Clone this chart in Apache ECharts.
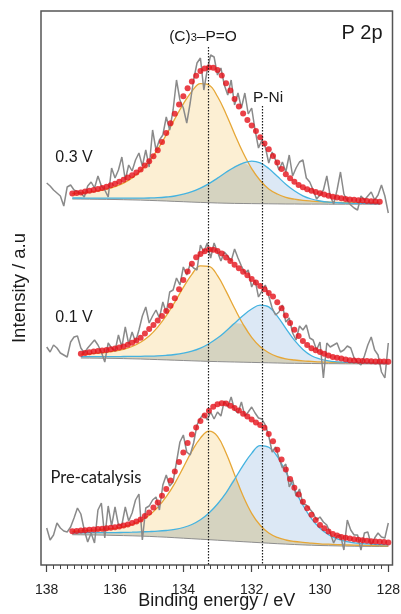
<!DOCTYPE html>
<html>
<head>
<meta charset="utf-8">
<title>P 2p</title>
<script src="https://cdn.jsdelivr.net/npm/echarts@6/dist/echarts.min.js"></script>
<style>
  html, body { margin: 0; padding: 0; background: #fff; }
  #chart { width: 401px; height: 614px; }
</style>
</head>
<body>
<div id="chart"></div>
<script>
// ---------- data (intensity in a.u., spectra already stacked) ----------
// raw spectra, 138.0 -> 128.0 eV every 0.1 eV
const raw03 = [382, 379, 375, 372, 369, 359, 378, 380, 375, 373,
  372, 368, 379, 383, 377, 389, 379, 375, 368, 397,
  387, 395, 408, 385, 400, 394, 405, 412, 399, 415,
  398, 435, 415, 425, 430, 448, 435, 455, 485, 465,
  457, 442, 462, 485, 502, 507, 475, 495, 510, 508,
  490, 497, 480, 470, 485, 460, 472, 457, 472, 451,
  457, 435, 417, 425, 418, 402, 413, 405, 395, 403,
  393, 410, 389, 397, 403, 405, 387, 383, 375, 366,
  370, 375, 389, 369, 361, 375, 393, 371, 364, 360,
  357, 355, 369, 365, 369, 373, 365, 370, 380, 369, 352];
const raw01 = [218, 213, 220, 217, 212, 210, 208, 223, 228, 229,
  217, 212, 217, 221, 225, 220, 213, 203, 222, 217,
  214, 230, 218, 238, 221, 233, 223, 235, 249, 258,
  242, 249, 255, 247, 263, 252, 273, 275, 287, 280,
  298, 290, 301, 297, 295, 320, 313, 322, 307, 322,
  313, 304, 313, 309, 304, 316, 307, 299, 292, 295,
  278, 285, 268, 274, 280, 269, 257, 250, 253, 260,
  243, 247, 232, 225, 239, 235, 240, 227, 225, 215,
  223, 187, 222, 218, 220, 222, 213, 215, 219, 217,
  207, 203, 200, 209, 220, 228, 215, 210, 193, 187, 222];
const rawPre = [37, 25, 30, 42, 37, 34, 33, 38, 47, 57,
  51, 35, 23, 32, 22, 55, 62, 27, 59, 39,
  58, 40, 40, 58, 44, 52, 65, 71, 25, 57,
  59, 65, 68, 55, 80, 90, 79, 83, 103, 123,
  130, 113, 110, 122, 140, 147, 151, 145, 153, 146,
  153, 149, 164, 158, 168, 155, 152, 163, 149, 153,
  158, 152, 147, 146, 140, 129, 113, 118, 107, 97,
  101, 78, 85, 69, 76, 61, 60, 56, 52, 45,
  48, 43, 40, 32, 22, 29, 30, 15, 45, 35,
  30, 30, 15, 32, 33, 20, 27, 32, 28, 27, 42];

// fitted envelopes (red dots), every 0.125 eV
const env03 = [371.5, 372.0, 372.6, 373.4, 374.3, 375.1, 376.0, 377.1, 378.3, 379.7,
  381.3, 383.2, 385.2, 387.4, 389.8, 392.5, 395.6, 399.5, 403.8, 408.8,
  414.8, 423.0, 432.0, 441.7, 451.2, 460.4, 468.8, 476.7, 483.5, 489.2,
  494.0, 496.5, 497.6, 497.2, 495.0, 489.5, 481.8, 474.4, 466.0, 458.5,
  451.5, 445.0, 439.5, 434.0, 427.7, 421.5, 415.7, 409.0, 402.4, 396.0,
  390.8, 386.7, 383.2, 380.0, 377.7, 375.8, 374.3, 373.0, 371.7, 370.4,
  369.3, 368.3, 367.4, 366.7, 366.1, 365.6, 365.2, 364.8, 364.4, 364.1,
  363.8, 363.5, 363.3];
const env01 = [211.2, 212.0, 212.7, 213.4, 214.0, 214.5, 215.0, 215.7, 216.5, 217.4,
  218.5, 220.2, 222.3, 224.6, 227.3, 231.6, 235.9, 240.1, 244.4, 249.0,
  254.0, 259.2, 266.7, 275.7, 285.0, 293.5, 301.3, 307.7, 311.0, 313.8,
  315.5, 315.2, 314.0, 311.5, 307.5, 303.9, 300.3, 296.7, 293.2, 289.7,
  286.1, 282.5, 279.1, 275.7, 272.1, 268.6, 262.8, 256.8, 249.5, 242.1,
  235.2, 229.0, 224.0, 219.9, 216.7, 214.7, 213.0, 211.3, 209.6, 208.1,
  207.2, 206.4, 205.5, 204.7, 204.4, 204.2, 204.1, 203.9, 203.8, 203.6,
  203.5, 203.4, 203.3];
const envPre = [33.7, 34.0, 34.4, 34.8, 35.2, 35.6, 36.0, 36.3, 36.7, 37.2,
  37.8, 38.5, 39.4, 40.4, 41.9, 43.6, 45.5, 49.0, 52.6, 57.4,
  62.6, 69.2, 76.0, 84.6, 93.4, 103.0, 112.5, 122.0, 130.5, 137.6,
  143.9, 149.5, 154.3, 158.2, 160.8, 161.7, 161.4, 159.2, 156.9, 154.4,
  151.3, 148.4, 145.5, 142.6, 140.1, 137.2, 130.9, 123.8, 115.3, 105.6,
  95.6, 86.0, 77.3, 70.5, 63.2, 56.7, 50.3, 44.9, 40.1, 36.7,
  33.4, 30.9, 29.5, 28.1, 27.2, 26.5, 25.8, 25.2, 24.7, 24.2,
  23.8, 23.5, 23.2, 22.9, 22.6];

// background + components (height above background), every 0.25 eV
const bg03 = [366.0, 365.9, 365.8, 365.7, 365.6, 365.5, 365.3, 365.1, 364.9, 364.6,
  364.3, 364.0, 363.6, 363.3, 362.9, 362.6, 362.3, 362.0, 361.8, 361.6,
  361.5, 361.4, 361.3, 361.2, 361.1, 361.0, 361.0, 360.9, 360.9, 360.9,
  360.8, 360.8, 360.8, 360.8, 360.8, 360.8, 360.8];
const po03 = [5.4, 6.1, 7.1, 8.4, 10.2, 12.9, 16.6, 22.0, 29.4, 39.2,
  51.4, 66.1, 82.5, 97.8, 110.8, 118.8, 117.7, 106.5, 89.3, 69.5,
  50.7, 35.0, 23.2, 14.9, 9.9, 6.7, 4.8, 3.7, 3.0, 2.5,
  2.2, 1.9, 1.7, 1.5, 1.4, 1.3, 1.1];
const pni03 = [1.0, 1.1, 1.1, 1.2, 1.3, 1.4, 1.5, 1.7, 2.0, 2.4,
  3.0, 4.0, 5.4, 7.5, 10.4, 14.3, 19.1, 24.9, 30.9, 36.3,
  40.4, 42.5, 40.8, 35.3, 27.6, 19.8, 13.2, 8.3, 5.1, 3.1,
  2.0, 1.5, 1.1, 0.9, 0.8, 0.7, 0.6];

const bg01 = [207.0, 206.9, 206.8, 206.7, 206.6, 206.4, 206.2, 206.0, 205.7, 205.4,
  205.1, 204.8, 204.5, 204.2, 203.9, 203.6, 203.4, 203.2, 203.0, 202.8,
  202.6, 202.4, 202.2, 202.0, 201.8, 201.7, 201.6, 201.5, 201.4, 201.3,
  201.3, 201.2, 201.2, 201.1, 201.1, 201.0, 201.0];
const po01 = [3.8, 4.3, 5.0, 6.0, 7.3, 9.3, 12.3, 16.8, 23.3, 32.5,
  44.2, 58.1, 73.1, 86.5, 95.3, 95.1, 86.0, 70.7, 53.7, 37.8,
  25.1, 15.9, 10.0, 6.4, 4.4, 3.3, 2.5, 2.1, 1.7, 1.5,
  1.4, 1.2, 1.1, 1.0, 0.9, 0.8, 0.8];
const pni01 = [1.3, 1.4, 1.5, 1.7, 1.8, 2.1, 2.4, 2.7, 3.2, 3.8,
  4.6, 5.7, 7.3, 9.6, 13.0, 17.7, 23.5, 30.8, 38.7, 46.7,
  53.4, 57.4, 55.9, 46.9, 34.8, 23.1, 14.0, 7.8, 4.6, 2.8,
  1.9, 1.4, 1.2, 1.0, 0.8, 0.7, 0.6];

const bgPre = [30.3, 30.2, 30.1, 30.0, 29.8, 29.6, 29.4, 29.2, 28.9, 28.6,
  28.2, 27.8, 27.3, 26.8, 26.3, 25.8, 25.3, 24.8, 24.3, 23.8,
  23.3, 22.8, 22.3, 21.8, 21.3, 20.9, 20.5, 20.1, 19.8, 19.5,
  19.3, 19.1, 18.9, 18.8, 18.7, 18.6, 18.5, 18.5];
const poPre = [3.4, 3.9, 4.5, 5.1, 6.0, 7.1, 8.8, 11.3, 15.2, 21.1,
  29.4, 40.5, 54.4, 70.8, 87.5, 101.1, 108.6, 103.9, 87.7, 66.5,
  45.7, 28.9, 17.4, 10.2, 6.3, 4.1, 3.0, 2.5, 2.1, 1.7,
  1.5, 1.3, 1.2, 1.0, 1.0, 0.9, 0.8, 0.7];
const pniPre = [1.8, 2.0, 2.2, 2.4, 2.6, 2.8, 3.2, 3.6, 4.2, 4.8,
  5.6, 6.7, 8.3, 10.7, 14.2, 19.4, 26.7, 36.2, 47.9, 61.9,
  76.3, 88.9, 97.1, 96.0, 87.3, 72.2, 55.7, 39.6, 26.6, 17.2,
  11.0, 7.0, 4.8, 3.4, 2.7, 2.3, 1.9, 1.7];

// reference lines: (C)3-P=O and P-Ni positions
const peakE = [133.27, 131.68];
const peakTop = [518, 459];

const majorTicks = [128, 130, 132, 134, 136, 138];

// energy grid, high -> low binding energy
function energies(start, step, n) {
  const out = [];
  for (let i = 0; i < n; i++) out.push(+(start - i * step).toFixed(3));
  return out;
}
function pairs(xs, ys) {
  return ys.map((y, i) => [xs[i], y]);
}

const spectra = [
  {raw: raw03, envStart: 137.25, env: env03, compStart: 137.25, bg: bg03, po: po03, pni: pni03},
  {raw: raw01, envStart: 137.0, env: env01, compStart: 137.0, bg: bg01, po: po01, pni: pni01},
  {raw: rawPre, envStart: 137.25, env: envPre, compStart: 137.25, bg: bgPre, po: poPre, pni: pniPre}
];

const FONT = '"Liberation Sans", Arial, sans-serif';
const series = [];

spectra.forEach((s) => {
  const rawE = energies(138, 0.1, s.raw.length);
  const envE = energies(s.envStart, 0.125, s.env.length);
  const compE = energies(s.compStart, 0.25, s.bg.length);
  const poLine = s.po.map((v, i) => s.bg[i] + v);
  const pniLine = s.pni.map((v, i) => s.bg[i] + v);
  const overLine = s.po.map((v, i) => s.bg[i] + Math.min(v, s.pni[i]));

  // areas: each component filled down, overlap on top
  const fills = [
    [poLine, '#fcefd3'],
    [pniLine, '#dce8f5'],
    [overLine, '#d5d3c0']
  ];
  fills.forEach((f) => {
    series.push({
      type: 'line', z: 1, silent: true, symbol: 'none', smooth: 0.4,
      data: pairs(compE, f[0]), lineStyle: {opacity: 0},
      areaStyle: {color: f[1], opacity: 1, origin: 1}
    });
  });
  // white mask below the background, a little wider than the fills
  const last = compE.length - 1;
  const maskData = [[compE[0] + 0.04, s.bg[0]]].concat(pairs(compE, s.bg), [[compE[last] - 0.04, s.bg[last]]]);
  series.push({
    type: 'line', z: 1, silent: true, symbol: 'none', smooth: 0.4,
    data: maskData, lineStyle: {opacity: 0},
    areaStyle: {color: '#ffffff', opacity: 1, origin: 1}
  });

  // background and component curves
  series.push({
    type: 'line', z: 2, silent: true, symbol: 'none',
    data: pairs(compE, s.bg), lineStyle: {color: '#8e8e8e', width: 1}
  });
  series.push({
    type: 'line', z: 2, silent: true, symbol: 'none', smooth: 0.4,
    data: pairs(compE, poLine), lineStyle: {color: '#e6a737', width: 1.3}
  });
  series.push({
    type: 'line', z: 2, silent: true, symbol: 'none', smooth: 0.4,
    data: pairs(compE, pniLine), lineStyle: {color: '#45b3e0', width: 1.3}
  });
  // raw data
  series.push({
    type: 'line', z: 3, silent: true, symbol: 'none',
    data: pairs(rawE, s.raw), lineStyle: {color: '#8a8a8a', width: 1.5}
  });
  // envelope
  series.push({
    type: 'scatter', z: 4, silent: true, symbolSize: 6,
    data: pairs(envE, s.env), itemStyle: {color: '#e5121a'}
  });
});

// dotted reference lines
series.push({
  type: 'line', z: 5, data: [],
  markLine: {
    silent: true, symbol: 'none', label: {show: false},
    lineStyle: {color: '#1a1a1a', type: [1.5, 1.5], width: 1.2},
    data: peakE.map((e, i) => [{coord: [e, peakTop[i]]}, {coord: [e, 0]}])
  }
});

const minorTicks = [];
for (let v = 128; v <= 138.001; v += 0.2) minorTicks.push(+v.toFixed(1));

const xRange = {min: 127.877, max: 138.167};

const option = {
  animation: false,
  backgroundColor: '#fff',
  grid: {
    left: 41, right: 8.5, top: 11, bottom: 49,
    containLabel: false, outerBoundsMode: 'none',
    show: true, borderColor: '#555', borderWidth: 1.5
  },
  xAxis: [
    {
      type: 'value', inverse: true, min: xRange.min, max: xRange.max, position: 'bottom',
      name: 'Binding energy / eV', nameLocation: 'middle', nameGap: 27, nameMoveOverlap: false,
      nameTextStyle: {fontFamily: FONT, fontSize: 18, color: '#1a1a1a'},
      axisLine: {show: false},
      splitLine: {show: false},
      axisTick: {show: true, customValues: majorTicks, length: 7, lineStyle: {color: '#444', width: 1.2}},
      axisLabel: {customValues: majorTicks, margin: 18, fontFamily: FONT, fontSize: 14, color: '#222'}
    },
    {
      type: 'value', inverse: true, min: xRange.min, max: xRange.max, position: 'bottom',
      axisLine: {show: false}, splitLine: {show: false}, axisLabel: {show: false},
      axisTick: {show: true, customValues: minorTicks, length: 4, lineStyle: {color: '#444', width: 1}}
    }
  ],
  yAxis: {
    type: 'value', min: 0, max: 554,
    name: 'Intensity / a.u', nameLocation: 'middle', nameGap: 12, nameMoveOverlap: false,
    nameTextStyle: {fontFamily: FONT, fontSize: 18.5, color: '#1a1a1a'},
    axisLine: {show: false}, axisTick: {show: false}, axisLabel: {show: false}, splitLine: {show: false}
  },
  series: series,
  graphic: [
    {type: 'text', x: 362, y: 33, z: 10, style: {text: 'P 2p', fontFamily: FONT, fontSize: 20, fill: '#1a1a1a', align: 'center', verticalAlign: 'middle'}},
    {type: 'text', x: 203, y: 36, z: 10, style: {
      text: '{n|(C)}{s|3}{n|–P=O}', align: 'center', verticalAlign: 'middle',
      rich: {
        n: {fontFamily: FONT, fontSize: 15.5, lineHeight: 15, verticalAlign: 'top', fill: '#1a1a1a'},
        s: {fontFamily: FONT, fontSize: 11, lineHeight: 11, padding: [8, 0, 0, 0], verticalAlign: 'bottom', fill: '#1a1a1a'}
      }
    }},
    {type: 'text', x: 268, y: 98, z: 10, style: {text: 'P-Ni', fontFamily: FONT, fontSize: 15.5, fill: '#1a1a1a', align: 'center', verticalAlign: 'middle'}},
    {type: 'text', x: 74, y: 158, z: 10, style: {text: '0.3 V', fontFamily: FONT, fontSize: 16, fill: '#1a1a1a', align: 'center', verticalAlign: 'middle'}},
    {type: 'text', x: 74, y: 318, z: 10, style: {text: '0.1 V', fontFamily: FONT, fontSize: 16, fill: '#1a1a1a', align: 'center', verticalAlign: 'middle'}},
    {type: 'text', x: 96, y: 478, z: 10, style: {text: 'Pre-catalysis', fontFamily: 'Lato, "Open Sans", sans-serif', fontSize: 16.5, fill: '#1a1a1a', align: 'center', verticalAlign: 'middle'}}
  ]
};

const chart = echarts.init(document.getElementById('chart'), null, {renderer: 'canvas'});
chart.setOption(option);
</script>
</body>
</html>
